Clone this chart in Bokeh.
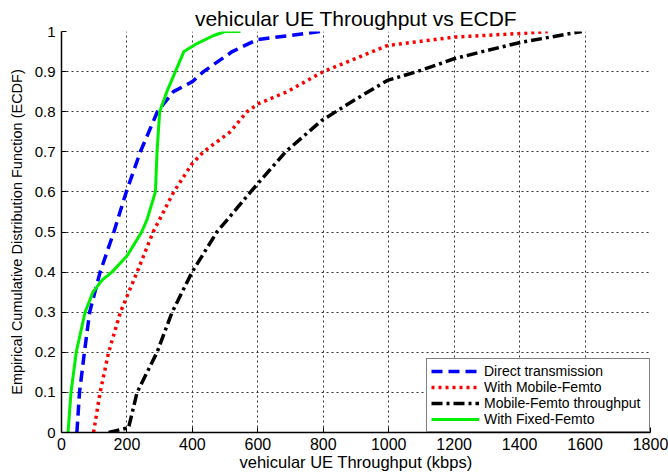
from bokeh.plotting import figure
from bokeh.models import FixedTicker, CustomJSTickFormatter, Legend, LegendItem, Range1d
from bokeh.embed import file_html
from bokeh.resources import INLINE

# Data
direct_x = [47, 55, 70, 86, 118, 160, 198, 241, 293, 342, 400, 434, 522, 599, 700, 792]
direct_y = [0.0, 0.1, 0.2, 0.3, 0.4, 0.5, 0.6, 0.7, 0.8, 0.85, 0.875, 0.9, 0.95, 0.98, 0.99, 1.0]

mobile_x = [98, 118, 144, 180, 231, 280, 343, 399, 434, 516, 567, 602, 690, 800, 996, 1200, 1400, 1486]
mobile_y = [0.0, 0.1, 0.2, 0.3, 0.4, 0.5, 0.6, 0.67, 0.7, 0.75, 0.8, 0.82, 0.85, 0.9, 0.965, 0.986, 0.995, 1.0]

mft_x = [144, 205, 231, 292, 338, 399, 475, 578, 685, 795, 893, 996, 1098, 1200, 1302, 1404, 1590]
mft_y = [0.0, 0.012, 0.1, 0.2, 0.3, 0.4, 0.5, 0.6, 0.7, 0.778, 0.828, 0.878, 0.903, 0.932, 0.953, 0.973, 1.0]

fixed_x = [20, 29, 45, 72, 96, 124, 154, 200, 245, 261, 287, 292, 300, 322, 348, 374, 414, 465, 500, 547]
fixed_y = [0.0, 0.1, 0.2, 0.3, 0.35, 0.38, 0.4, 0.44, 0.5, 0.53, 0.6, 0.7, 0.8, 0.85, 0.9, 0.95, 0.97, 0.99, 1.0, 1.0]

x_ticks = [0, 200, 400, 600, 800, 1000, 1200, 1400, 1600, 1800]
y_ticks = [0, 0.1, 0.2, 0.3, 0.4, 0.5, 0.6, 0.7, 0.8, 0.9, 1.0]

FONT = "Liberation Sans"

p = figure(width=668, height=475, output_backend="svg", toolbar_location=None,
           x_range=Range1d(0, 1800), y_range=Range1d(0, 1),
           min_border_left=61, min_border_right=18, min_border_top=31, min_border_bottom=43,
           title="vehicular UE Throughput vs ECDF")
p.outline_line_color = None
p.title.align = "center"
p.title.text_font = FONT
p.title.text_font_size = "21px"
p.title.text_font_style = "normal"
p.title.text_color = "black"
p.title.standoff = 3
p.title.offset = 0

for ax in (p.xaxis[0], p.yaxis[0]):
    ax.major_tick_in = 5
    ax.major_tick_out = 0
    ax.minor_tick_in = 0
    ax.minor_tick_out = 0
    ax.axis_line_width = 1.5
    ax.axis_line_color = "black"
    ax.major_tick_line_color = "black"
    ax.major_label_text_font = FONT
    ax.major_label_text_color = "black"
    ax.axis_label_text_font = FONT
    ax.axis_label_text_font_style = "normal"
    ax.axis_label_text_color = "black"

p.xaxis.major_label_text_font_size = "16px"
p.yaxis.major_label_text_font_size = "15px"
p.xaxis.axis_label_text_font_size = "16.5px"
p.yaxis.axis_label_text_font_size = "14.5px"
p.xaxis.ticker = FixedTicker(ticks=x_ticks)
p.yaxis.ticker = FixedTicker(ticks=y_ticks)
p.yaxis.formatter = CustomJSTickFormatter(code="return String(Math.round(tick*10)/10);")
p.xaxis.axis_label = "vehicular UE Throughput (kbps)"
p.yaxis.axis_label = "Empirical Cumulative Distribution Function (ECDF)"
p.xaxis.major_label_standoff = 5
p.xaxis.axis_label_standoff = 0
p.yaxis.major_label_standoff = 6
p.yaxis.axis_label_standoff = 7

for g in (p.xgrid[0], p.ygrid[0]):
    g.grid_line_color = "#333333"
    g.grid_line_dash = "2 3"
    g.grid_line_width = 1
p.xgrid.ticker = FixedTicker(ticks=x_ticks)
p.ygrid.ticker = FixedTicker(ticks=y_ticks)

r1 = p.line(direct_x, direct_y, line_color="#0000ff", line_width=3.5, line_dash="11 6")
r2 = p.line(mobile_x, mobile_y, line_color="#ff0000", line_width=3.5, line_dash="3 4")
r3 = p.line(mft_x, mft_y, line_color="black", line_width=3.5, line_dash="11 4 3 4")
r4 = p.line(fixed_x, fixed_y, line_color="#00ee00", line_width=3)

legend = Legend(items=[
    LegendItem(label="Direct transmission", renderers=[r1]),
    LegendItem(label="With Mobile-Femto", renderers=[r2]),
    LegendItem(label="Mobile-Femto throughput", renderers=[r3]),
    LegendItem(label="With Fixed-Femto", renderers=[r4]),
], location="bottom_right")
legend.margin = 0
legend.padding = 4
legend.spacing = 0
legend.glyph_width = 48
legend.glyph_height = 16
legend.label_height = 16
legend.label_width = 161
legend.label_standoff = 5
legend.label_text_font = FONT
legend.label_text_font_size = "14px"
legend.label_text_color = "black"
legend.border_line_color = "black"
legend.border_line_width = 1.5
legend.background_fill_alpha = 1
p.add_layout(legend)

open("out.html", "w").write(file_html(p, INLINE))
